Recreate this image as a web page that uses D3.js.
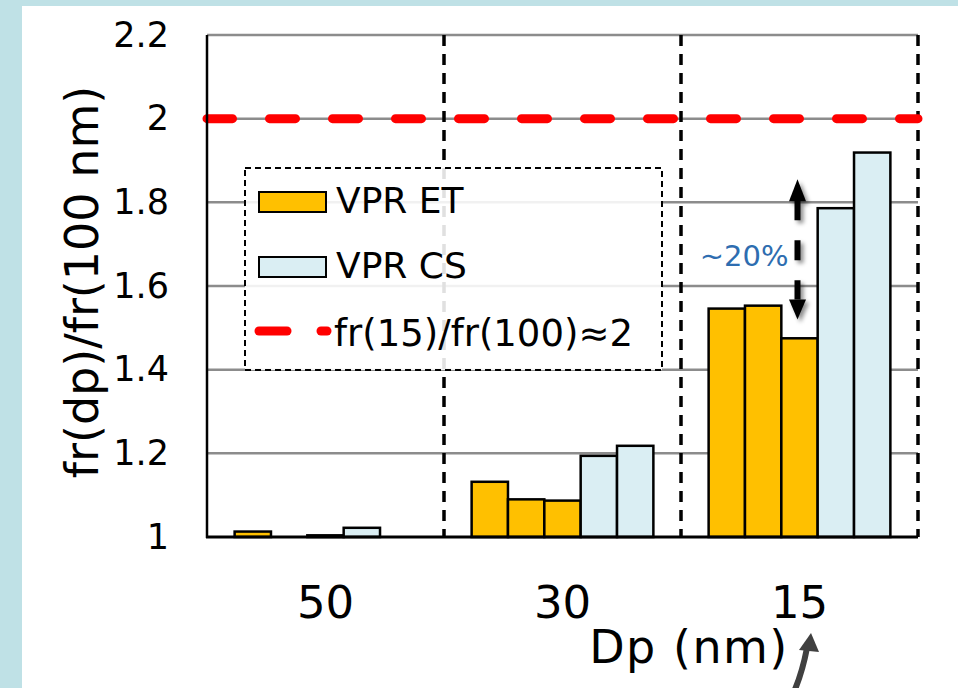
<!DOCTYPE html>
<html>
<head>
<meta charset="utf-8">
<script src="https://cdn.jsdelivr.net/npm/d3@7"></script>
<style>
  body { margin: 0; background: #bfe1e6; }
  svg { display: block; font-family: "DejaVu Sans", Verdana, sans-serif; }
</style>
</head>
<body>
<svg id="chart" width="958" height="688"></svg>
<script>
// data
const categories = ['50', '30', '15'];
const etRun1 = [1.013, 1.132, 1.546];
const etRun2 = [null, 1.090, 1.553];
const etRun3 = [1.004, 1.087, 1.475];
const csRun1 = [1.022, 1.194, 1.786];
const csRun2 = [null, 1.218, 1.919];
const yTicks = [1, 1.2, 1.4, 1.6, 1.8, 2, 2.2];
const refValue = 2;
const legendLabels = ['VPR ET', 'VPR CS', 'fr(15)/fr(100)\u22482'];
const gapLabel = '~20%';
const gapTop = 1.855, gapBottom = 1.52;

const series = [
    { type: 'ET', values: etRun1 },
    { type: 'ET', values: etRun2 },
    { type: 'ET', values: etRun3 },
    { type: 'CS', values: csRun1 },
    { type: 'CS', values: csRun2 }
];
const colors = { ET: '#ffc000', CS: '#daeef3' };

const svg = d3.select('#chart');
const width = +svg.attr('width');
const height = +svg.attr('height');

// white panel over the light blue frame
svg.append('rect')
    .attr('x', 22).attr('y', 6)
    .attr('width', width - 22).attr('height', height - 6)
    .attr('fill', 'white');

const defs = svg.append('defs');
defs.append('filter').attr('id', 'shadow')
    .attr('x', '-50%').attr('y', '-20%').attr('width', '200%').attr('height', '140%')
    .append('feDropShadow')
    .attr('dx', 3).attr('dy', 3).attr('stdDeviation', 2)
    .attr('flood-color', '#000').attr('flood-opacity', 0.45);

const pLeft = 207, pRight = 918, pTop = 35, pBottom = 537;

const y = d3.scaleLinear().domain([1, 2.2]).range([pBottom, pTop]);
const x0 = d3.scaleBand().domain(categories).range([pLeft, pRight]);
const x1 = d3.scaleBand().domain(d3.range(series.length))
    .range([0, x0.bandwidth()])
    .paddingInner(0).paddingOuter(0.76);

// gridlines
svg.append('g')
    .selectAll('line')
    .data(yTicks.filter(d => d > 1))
    .enter().append('line')
    .attr('x1', pLeft).attr('x2', pRight)
    .attr('y1', d => y(d)).attr('y2', d => y(d))
    .attr('stroke', '#8c8c8c')
    .attr('stroke-width', 2.5);

// dashed separators between groups
svg.append('g')
    .selectAll('line')
    .data(categories)
    .enter().append('line')
    .attr('x1', d => x0(d) + x0.bandwidth()).attr('x2', d => x0(d) + x0.bandwidth())
    .attr('y1', pTop).attr('y2', pBottom)
    .attr('stroke', 'black')
    .attr('stroke-width', 3.5)
    .attr('stroke-dasharray', '11 8');

// bars
const barData = [];
categories.forEach((c, i) => {
    series.forEach((s, j) => {
        if (s.values[i] != null) barData.push({ cat: c, idx: j, type: s.type, value: s.values[i] });
    });
});

svg.append('g')
    .selectAll('rect')
    .data(barData)
    .enter().append('rect')
    .attr('x', d => x0(d.cat) + x1(d.idx))
    .attr('y', d => y(d.value))
    .attr('width', x1.bandwidth())
    .attr('height', d => y(1) - y(d.value))
    .attr('fill', d => colors[d.type])
    .attr('stroke', 'black')
    .attr('stroke-width', 2.5);

// reference line at 2
svg.append('line')
    .attr('x1', pLeft).attr('x2', pRight)
    .attr('y1', y(refValue)).attr('y2', y(refValue))
    .attr('stroke', '#ff0000')
    .attr('stroke-width', 9)
    .attr('stroke-linecap', 'round')
    .attr('stroke-dasharray', '26 37')
    .attr('stroke-dashoffset', 0.5);

// axes
const yAxis = svg.append('g')
    .attr('transform', `translate(${pLeft},0)`)
    .call(d3.axisLeft(y).tickValues(yTicks).tickSize(0).tickPadding(38).tickFormat(d => String(d)));
yAxis.select('.domain').remove();
yAxis.selectAll('text')
    .attr('font-size', 35)
    .attr('font-family', '"DejaVu Sans", sans-serif')
    .attr('fill', 'black');

const xAxis = svg.append('g')
    .attr('transform', `translate(0,${pBottom})`)
    .call(d3.axisBottom(x0).tickSize(0).tickPadding(49));
xAxis.select('.domain').remove();
xAxis.selectAll('text')
    .attr('font-size', 45)
    .attr('font-family', '"DejaVu Sans", sans-serif')
    .attr('fill', 'black');

svg.append('line')
    .attr('x1', pLeft).attr('x2', pLeft)
    .attr('y1', pTop).attr('y2', pBottom + 1)
    .attr('stroke', 'black').attr('stroke-width', 2.5);
svg.append('line')
    .attr('x1', pLeft - 1).attr('x2', pRight)
    .attr('y1', pBottom).attr('y2', pBottom)
    .attr('stroke', 'black').attr('stroke-width', 3);

// axis titles
svg.append('text')
    .attr('transform', `translate(98,${(pTop + pBottom) / 2 - 4}) rotate(-90)`)
    .attr('text-anchor', 'middle')
    .attr('font-size', 46)
    .text('fr(dp)/fr(100 nm)');

svg.append('text')
    .attr('x', 689).attr('y', 663)
    .attr('text-anchor', 'middle')
    .attr('font-size', 46)
    .attr('letter-spacing', 1.5)
    .text('Dp (nm)');

// legend
const legend = svg.append('g').attr('transform', 'translate(245,168)');
legend.append('rect')
    .attr('width', 417).attr('height', 202)
    .attr('fill', 'white').attr('fill-opacity', 0.88)
    .attr('stroke', 'black').attr('stroke-width', 2)
    .attr('stroke-dasharray', '6 4');

const rows = [
    { label: legendLabels[0], kind: 'ET', base: 45 },
    { label: legendLabels[1], kind: 'CS', base: 110 },
    { label: legendLabels[2], kind: 'line', base: 178 }
];
rows.forEach(r => {
    if (r.kind === 'line') {
        legend.append('line')
            .attr('x1', 14).attr('x2', 42)
            .attr('y1', r.base - 15).attr('y2', r.base - 15)
            .attr('stroke', '#ff0000').attr('stroke-width', 9)
            .attr('stroke-linecap', 'round');
        legend.append('line')
            .attr('x1', 76).attr('x2', 82)
            .attr('y1', r.base - 15).attr('y2', r.base - 15)
            .attr('stroke', '#ff0000').attr('stroke-width', 9)
            .attr('stroke-linecap', 'round');
    } else {
        legend.append('rect')
            .attr('x', 14).attr('y', r.base - 21)
            .attr('width', 67).attr('height', 20)
            .attr('fill', colors[r.kind])
            .attr('stroke', 'black').attr('stroke-width', 2);
    }
    legend.append('text')
        .attr('x', r.kind === 'line' ? 89 : 91).attr('y', r.base)
        .attr('font-size', r.kind === 'line' ? 37 : 36)
        .text(r.label);
});

// ~20% double arrow
const ax = x0('15') + x1(2) + x1.bandwidth() / 2 - 2;
const yT = y(gapTop), yB = y(gapBottom);
const arrow = svg.append('g').attr('filter', 'url(#shadow)');
arrow.append('line')
    .attr('x1', ax).attr('x2', ax)
    .attr('y1', yT + 21).attr('y2', yB - 20)
    .attr('stroke', 'black').attr('stroke-width', 6)
    .attr('stroke-dasharray', '20 20');
arrow.append('path')
    .attr('d', `M${ax},${yT} L${ax + 8.5},${yT + 22} L${ax - 8.5},${yT + 22} Z`)
    .attr('fill', 'black');
arrow.append('path')
    .attr('d', `M${ax},${yB} L${ax + 8.5},${yB - 20} L${ax - 8.5},${yB - 20} Z`)
    .attr('fill', 'black');

svg.append('text')
    .attr('x', ax - 9).attr('y', (yT + yB) / 2 + 17)
    .attr('text-anchor', 'end')
    .attr('font-size', 29)
    .attr('fill', '#2e6db0')
    .text(gapLabel);

// curved pointer below the 15 label
svg.append('path')
    .attr('d', 'M793,694 Q802,674 807,648')
    .attr('fill', 'none')
    .attr('stroke', '#404040').attr('stroke-width', 6);
svg.append('path')
    .attr('d', 'M811,633 L819,652 L799,650 Z')
    .attr('fill', '#404040');
</script>
</body>
</html>
